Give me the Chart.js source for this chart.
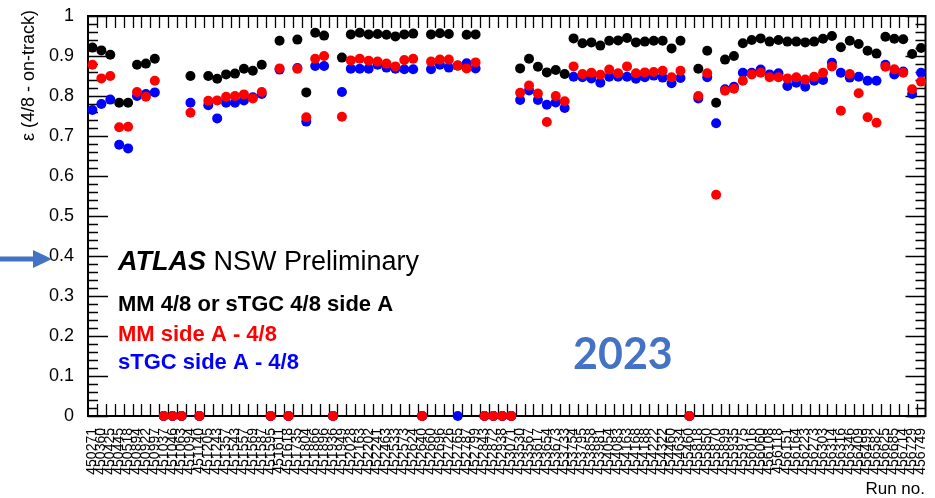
<!DOCTYPE html>
<html>
<head>
<meta charset="utf-8">
<script src="https://cdn.jsdelivr.net/npm/chart.js@4.4.1/dist/chart.umd.min.js"></script>
<style>
  html, body { margin: 0; padding: 0; background: #fff; }
  #wrap { width: 935px; height: 498px; position: relative; }
</style>
</head>
<body>
<div id="wrap"><canvas id="c" width="935" height="498"></canvas></div>
<script>
// Run numbers along the x axis
const runs = [
  450271, 450360, 450425, 450445, 450518, 450894, 450922, 450997, 451037, 451046,
  451063, 451094, 451140, 451205, 451243, 451357, 451543, 451557, 451569, 451587,
  451595, 451611, 451618, 451735, 451804, 451866, 451896, 451936, 451949, 452028,
  452163, 452202, 452241, 452463, 452533, 452573, 452624, 452640, 452660, 452696,
  452726, 452765, 452787, 452799, 452843, 452872, 452938, 453071, 453530, 453567,
  453617, 453654, 453673, 453733, 453754, 453795, 453858, 453981, 454054, 454083,
  454163, 454168, 454188, 454222, 454322, 454460, 454634, 455460, 455818, 455850,
  455870, 455899, 455935, 455975, 456016, 456060, 456108, 456118, 456151, 456164,
  456223, 456273, 456303, 456314, 456316, 456346, 456409, 456499, 456582, 456625,
  456685, 456714, 456729, 456749
];

// MM 4/8 or sTGC 4/8, side A
const mmOrStgc = [
  0.921, 0.914, 0.903, 0.783, 0.783, 0.878, 0.881, 0.893, 0, 0,
  0, 0.850, 0, 0.850, 0.843, 0.854, 0.856, 0.868, 0.863, 0.878,
  0, 0.938, 0, 0.941, 0.809, 0.958, 0.951, 0, 0.896, 0.954,
  0.958, 0.954, 0.955, 0.953, 0.949, 0.954, 0.956, 0, 0.954, 0.957,
  0.955, 0.876, 0.953, 0.954, 0, 0, 0, 0, 0.869, 0.893,
  0.873, 0.859, 0.865, 0.855, 0.944, 0.932, 0.934, 0.926, 0.938, 0.939,
  0.945, 0.934, 0.936, 0.938, 0.938, 0.919, 0.938, 0, 0.868, 0.913,
  0.783, 0.891, 0.900, 0.932, 0.940, 0.944, 0.936, 0.940, 0.936, 0.936,
  0.934, 0.936, 0.943, 0.950, 0.922, 0.938, 0.930, 0.913, 0.906, 0.948,
  0.943, 0.942, 0.905, 0.920
];

// MM side A, 4/8
const mmSideA = [
  0.878, 0.844, 0.850, 0.722, 0.723, 0.810, 0.798, 0.838, 0, 0,
  0, 0.758, 0, 0.788, 0.789, 0.798, 0.800, 0.804, 0.794, 0.810,
  0, 0.869, 0, 0.868, 0.747, 0.893, 0.900, 0, 0.748, 0.889,
  0.893, 0.888, 0.886, 0.881, 0.874, 0.890, 0.893, 0, 0.886, 0.891,
  0.891, 0.876, 0.869, 0.884, 0, 0, 0, 0, 0.808, 0.826,
  0.806, 0.735, 0.800, 0.787, 0.874, 0.855, 0.858, 0.853, 0.866, 0.857,
  0.874, 0.857, 0.859, 0.860, 0.863, 0.847, 0.863, 0, 0.800, 0.857,
  0.553, 0.813, 0.818, 0.838, 0.854, 0.858, 0.847, 0.847, 0.844, 0.847,
  0.841, 0.848, 0.858, 0.874, 0.763, 0.855, 0.807, 0.747, 0.733, 0.873,
  0.867, 0.858, 0.817, 0.836
];

// sTGC side A, 4/8
const stgcSideA = [
  0.765, 0.780, 0.791, 0.678, 0.669, 0.800, 0.805, 0.809, 0, 0,
  0, 0.783, 0, 0.777, 0.744, 0.783, 0.783, 0.789, 0.797, 0.805,
  0, 0.866, 0, 0.870, 0.736, 0.875, 0.875, 0, 0.810, 0.868,
  0.868, 0.868, 0.878, 0.871, 0.868, 0.867, 0.867, 0, 0.867, 0.878,
  0.871, 0, 0.882, 0.869, 0, 0, 0, 0, 0.790, 0.814,
  0.790, 0.778, 0.784, 0.770, 0.848, 0.847, 0.844, 0.833, 0.848, 0.848,
  0.848, 0.843, 0.847, 0.851, 0.846, 0.832, 0.845, 0, 0.794, 0.847,
  0.732, 0.817, 0.823, 0.858, 0.858, 0.866, 0.854, 0.857, 0.825, 0.833,
  0.823, 0.838, 0.840, 0.883, 0.858, 0.846, 0.848, 0.838, 0.838, 0.878,
  0.854, 0.861, 0.805, 0.858
];

// y axis tick values and labels
const yTickValues = [0, 0.1, 0.2, 0.3, 0.4, 0.5, 0.6, 0.7, 0.8, 0.9, 1];
const yTickLabels = ['0', '0.1', '0.2', '0.3', '0.4', '0.5', '0.6', '0.7', '0.8', '0.9', '1'];

const seriesNames = ['MM 4/8 or sTGC 4/8 side A', 'MM side A - 4/8', 'sTGC side A - 4/8'];
const seriesColors = ['#000000', '#ff0000', '#0000ff'];

const FONT = '"Liberation Sans", Arial, Helvetica, sans-serif';

function pointSet(label, data, color) {
  return {
    label: label,
    data: data,
    showLine: false,
    pointRadius: 5,
    pointBorderWidth: 0,
    pointBackgroundColor: color,
    borderColor: color,
    backgroundColor: color,
    clip: false
  };
}

// Frame, inward tick marks on all four sides, and the text overlays
const framePlugin = {
  id: 'frame',
  beforeDatasetsDraw(chart) {
    const { ctx, chartArea: a, scales } = chart;
    const x = scales.x, y = scales.y;
    ctx.save();
    ctx.strokeStyle = '#000';
    ctx.lineWidth = 1.3;
    ctx.beginPath();
    // y major and minor ticks (left and right)
    for (let k = 0; k <= 50; k++) {
      const v = k / 50;
      const py = Math.round(y.getPixelForValue(v)) + 0.5;
      const len = (k % 5 === 0) ? 20 : 10;
      ctx.moveTo(a.left, py); ctx.lineTo(a.left + len, py);
      ctx.moveTo(a.right, py); ctx.lineTo(a.right - len, py);
    }
    // x ticks at category edges (bottom and top)
    const n = runs.length;
    for (let i = 1; i < n; i++) {
      const px = Math.round((x.getPixelForTick(i - 1) + x.getPixelForTick(i)) / 2) + 0.5;
      ctx.moveTo(px, a.bottom); ctx.lineTo(px, a.bottom - 12);
      ctx.moveTo(px, a.top); ctx.lineTo(px, a.top + 12);
    }
    ctx.stroke();
    ctx.lineWidth = 2;
    ctx.strokeRect(a.left, a.top, a.right - a.left, a.bottom - a.top);
    ctx.restore();
  },
  afterDraw(chart) {
    const { ctx } = chart;
    ctx.save();
    // y axis title
    ctx.save();
    ctx.translate(29, 10);
    ctx.rotate(-Math.PI / 2);
    ctx.fillStyle = '#000';
    ctx.font = '18px ' + FONT;
    ctx.textAlign = 'right';
    ctx.textBaseline = 'middle';
    ctx.fillText('\u03b5 (4/8 - on-track)', 0, 0);
    ctx.restore();

    // x axis title
    ctx.fillStyle = '#000';
    ctx.font = '17px ' + FONT;
    ctx.textAlign = 'right';
    ctx.textBaseline = 'alphabetic';
    ctx.fillText('Run no.', 925, 494);

    // ATLAS label
    ctx.textAlign = 'left';
    ctx.font = 'italic bold 27px ' + FONT;
    ctx.fillText('ATLAS', 118, 270);
    const w = ctx.measureText('ATLAS').width;
    ctx.font = '27px ' + FONT;
    ctx.fillText(' NSW Preliminary', 118 + w, 270);

    // series captions
    const baselines = [311, 341, 369];
    ctx.font = 'bold 22px ' + FONT;
    for (let i = 0; i < seriesNames.length; i++) {
      ctx.fillStyle = seriesColors[i];
      ctx.fillText(seriesNames[i], 118, baselines[i]);
    }

    // year tag
    ctx.fillStyle = '#4472c4';
    ctx.font = 'bold 43px Lato, "Open Sans", sans-serif';
    ctx.fillText('2023', 573, 369);

    // arrow pointing at 0.4
    ctx.strokeStyle = '#4472c4';
    ctx.fillStyle = '#4472c4';
    ctx.lineWidth = 5;
    ctx.beginPath();
    ctx.moveTo(0, 259);
    ctx.lineTo(36, 259);
    ctx.stroke();
    ctx.beginPath();
    ctx.moveTo(33, 250);
    ctx.lineTo(52, 259);
    ctx.lineTo(33, 268);
    ctx.closePath();
    ctx.fill();
    ctx.restore();
  }
};

new Chart(document.getElementById('c'), {
  type: 'line',
  data: {
    labels: runs.map(String),
    datasets: [
      pointSet(seriesNames[1], mmSideA, seriesColors[1]),
      pointSet(seriesNames[2], stgcSideA, seriesColors[2]),
      pointSet(seriesNames[0], mmOrStgc, seriesColors[0])
    ]
  },
  options: {
    responsive: false,
    animation: false,
    devicePixelRatio: 1,
    events: [],
    layout: { padding: { left: 0, right: 9.5, top: 16, bottom: 0 } },
    plugins: { legend: { display: false }, tooltip: { enabled: false } },
    scales: {
      x: {
        type: 'category',
        offset: true,
        grid: { display: false, offset: true },
        border: { display: false },
        ticks: {
          autoSkip: false,
          maxRotation: 90,
          minRotation: 90,
          padding: 4,
          color: '#000',
          font: { family: FONT, size: 14 }
        },
        afterFit(s) { s.height = 82; s.paddingLeft = 0; s.paddingRight = 0; }
      },
      y: {
        min: 0,
        max: 1,
        grid: { display: false },
        border: { display: false },
        afterBuildTicks(s) { s.ticks = yTickValues.map(v => ({ value: v })); },
        ticks: {
          padding: 6,
          color: '#000',
          font: { family: FONT, size: 18 },
          callback(v) {
            const i = yTickValues.findIndex(t => Math.abs(t - v) < 1e-9);
            return i >= 0 ? yTickLabels[i] : '';
          }
        },
        afterFit(s) { s.width = 88; s.paddingTop = 0; s.paddingBottom = 0; }
      }
    }
  },
  plugins: [framePlugin]
});
</script>
</body>
</html>
